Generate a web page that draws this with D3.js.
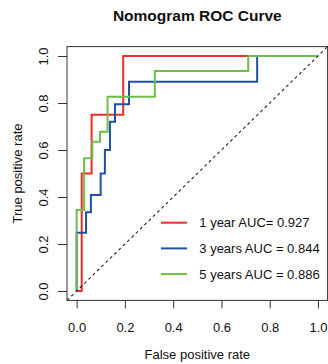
<!DOCTYPE html>
<html>
<head>
<meta charset="utf-8">
<script src="https://cdn.jsdelivr.net/npm/d3@7"></script>
<style>
  body { margin: 0; background: #fff; }
  text { font-family: "Liberation Sans", Arial, sans-serif; fill: #111; }
</style>
</head>
<body>
<div id="chart"></div>
<script>
const width = 328
const height = 364

// ROC step corners (false positive rate, true positive rate)
const fpr1 = [0, 0.021, 0.021, 0.062, 0.062, 0.193, 0.193, 1]
const tpr1 = [0, 0, 0.5, 0.5, 0.75, 0.75, 1, 1]

const fpr3 = [0, 0, 0.039, 0.039, 0.059, 0.059, 0.0995, 0.0995, 0.117, 0.117, 0.138, 0.138, 0.159, 0.159, 0.217, 0.217, 0.748, 0.748, 1]
const tpr3 = [0, 0.248, 0.248, 0.335, 0.335, 0.408, 0.408, 0.5, 0.5, 0.6, 0.6, 0.72, 0.72, 0.795, 0.795, 0.89, 0.89, 1, 1]

const fpr5 = [0, 0, 0.031, 0.031, 0.065, 0.065, 0.097, 0.097, 0.128, 0.128, 0.324, 0.324, 0.711, 0.711, 1]
const tpr5 = [0, 0.345, 0.345, 0.565, 0.565, 0.635, 0.635, 0.678, 0.678, 0.827, 0.827, 0.936, 0.936, 1, 1]

const seriesNames = ["1 year AUC= 0.927", "3 years AUC = 0.844", "5 years AUC = 0.886"]
const seriesColors = ["#ee2a2a", "#2150a8", "#6cbe45"]
const ticks = [0, 0.2, 0.4, 0.6, 0.8, 1.0]

const series = [
  { name: seriesNames[0], color: seriesColors[0], pts: d3.zip(fpr1, tpr1) },
  { name: seriesNames[1], color: seriesColors[1], pts: d3.zip(fpr3, tpr3) },
  { name: seriesNames[2], color: seriesColors[2], pts: d3.zip(fpr5, tpr5) }
]

// plot region (R style: 4% padding on each side of [0,1])
const x = d3.scaleLinear().domain([-0.04, 1.04]).range([67, 327.6])
const y = d3.scaleLinear().domain([-0.04, 1.04]).range([300.4, 46.6])

const svg = d3.select("#chart").append("svg")
  .attr("width", width)
  .attr("height", height)

// title
svg.append("text")
  .attr("x", 197.3).attr("y", 20.5)
  .attr("text-anchor", "middle")
  .attr("font-size", "15.5px")
  .attr("font-weight", "bold")
  .text("Nomogram ROC Curve")

// x axis
const xAxis = svg.append("g")
  .attr("transform", `translate(0,${y(-0.04)})`)
  .call(d3.axisBottom(x).tickValues(ticks).tickFormat(d3.format(".1f")).tickSize(8).tickPadding(14))
xAxis.select(".domain").remove()
xAxis.selectAll("line").attr("stroke", "#333")
xAxis.selectAll("text").attr("font-size", "13px").attr("font-family", "Liberation Sans, Arial, sans-serif").attr("fill", "#111")

// y axis (labels parallel to the axis)
const yAxis = svg.append("g")
  .attr("transform", `translate(${x(-0.04)},0)`)
  .call(d3.axisLeft(y).tickValues(ticks).tickFormat(d3.format(".1f")).tickSize(9))
yAxis.select(".domain").remove()
yAxis.selectAll("line").attr("stroke", "#333")
yAxis.selectAll("text")
  .attr("font-size", "13px")
  .attr("font-family", "Liberation Sans, Arial, sans-serif")
  .attr("fill", "#111")
  .attr("text-anchor", "middle")
  .attr("x", 0).attr("dy", 0)
  .attr("transform", "translate(-19.5,0) rotate(-90)")

// axis titles
svg.append("text")
  .attr("x", 197.3).attr("y", 358.5)
  .attr("text-anchor", "middle")
  .attr("font-size", "13px")
  .text("False positive rate")

svg.append("text")
  .attr("transform", `translate(21.5,${(y(-0.04) + y(1.04)) / 2}) rotate(-90)`)
  .attr("text-anchor", "middle")
  .attr("font-size", "13px")
  .text("True positive rate")

// curves
const line = d3.line().x(d => x(d[0])).y(d => y(d[1]))

svg.append("g").selectAll("path")
  .data(series)
  .join("path")
  .attr("d", d => line(d.pts))
  .attr("fill", "none")
  .attr("stroke", d => d.color)
  .attr("stroke-width", 2)

// reference diagonal
svg.append("line")
  .attr("x1", x(-0.04)).attr("y1", y(-0.04))
  .attr("x2", x(1.04)).attr("y2", y(1.04))
  .attr("stroke", "#222")
  .attr("stroke-width", 1.1)
  .attr("stroke-dasharray", "3,3")

// box
svg.append("rect")
  .attr("x", x(-0.04)).attr("y", y(1.04))
  .attr("width", x(1.04) - x(-0.04))
  .attr("height", y(-0.04) - y(1.04))
  .attr("fill", "none")
  .attr("stroke", "#333")
  .attr("stroke-width", 1)

// legend
const legend = svg.append("g").selectAll("g")
  .data(series)
  .join("g")
  .attr("transform", (d, i) => `translate(161,${222.7 + i * 25.7})`)

legend.append("line")
  .attr("x1", 0).attr("x2", 26)
  .attr("stroke", d => d.color)
  .attr("stroke-width", 2)

legend.append("text")
  .attr("x", 38.3)
  .attr("dy", "0.35em")
  .attr("font-size", "13px")
  .text(d => d.name)
</script>
</body>
</html>
